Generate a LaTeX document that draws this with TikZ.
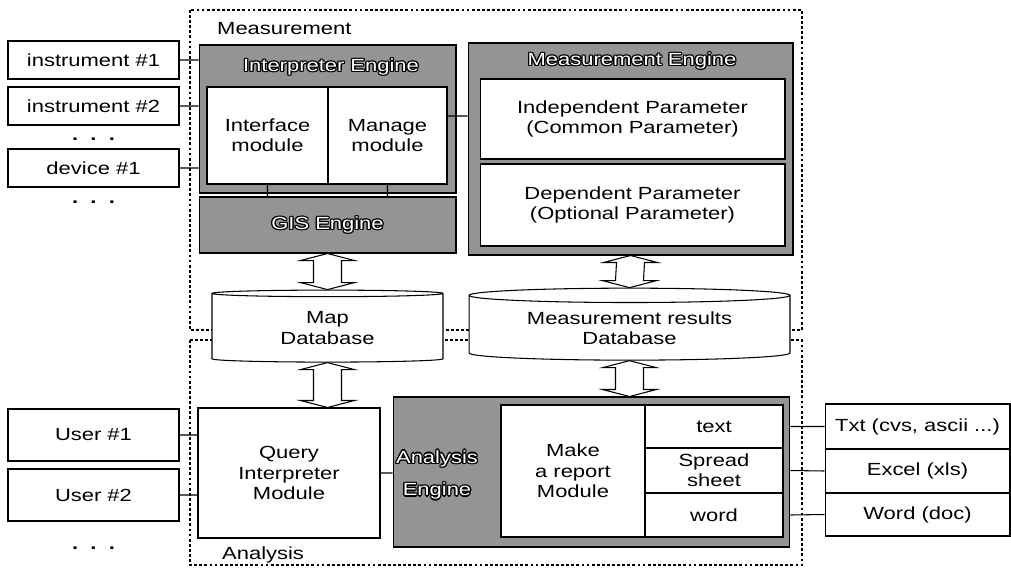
\documentclass[tikz,border=0pt]{standalone}
\usepackage{fontspec}
\setmainfont{Liberation Sans}[FakeStretch=1.25]
\usetikzlibrary{shapes.geometric,calc}

% white letters with a black rim
\newcommand\hollowtext[1]{\leavevmode\rlap{\color{black}%
  \rlap{\kern0.75pt\hbox{#1}}\rlap{\kern-0.75pt\hbox{#1}}%
  \rlap{\raise0.75pt\hbox{#1}}\rlap{\lower0.75pt\hbox{#1}}%
  \rlap{\kern0.55pt\raise0.55pt\hbox{#1}}\rlap{\kern-0.55pt\raise0.55pt\hbox{#1}}%
  \rlap{\kern0.55pt\lower0.55pt\hbox{#1}}\rlap{\kern-0.55pt\lower0.55pt\hbox{#1}}}%
  \textcolor{white}{#1}}

% hollow two-headed block arrow, #1 top tip, #2 bottom tip
\newcommand\fatarrow[2]{%
  \draw[link, fill=white] (#1) -- ($(#1)+(-27,7)$) -- ($(#1)+(-14,7)$)
    -- ($(#2)+(-14,-7)$) -- ($(#2)+(-27,-7)$) -- (#2)
    -- ($(#2)+(27,-7)$) -- ($(#2)+(14,-7)$)
    -- ($(#1)+(14,7)$) -- ($(#1)+(27,7)$) -- cycle;}

\tikzset{
  region/.style={line width=1.6pt, dash pattern=on 1.6pt off 1.3pt},
  link/.style={line width=0.6pt},
  srcbox/.style={draw, line width=0.6pt, minimum width=3.42cm, inner sep=0pt, align=center},
  outbox/.style={draw, line width=0.6pt, minimum width=3.7cm, inner sep=0pt, align=center},
  engine/.style={draw, line width=0.6pt, fill=black!42, inner sep=0pt},
  module/.style={draw, line width=0.6pt, fill=white, inner sep=0pt, align=center},
  dbase/.style={cylinder, shape border rotate=90, aspect=0.07, draw, line width=0.6pt,
    fill=white, align=center, inner sep=0pt},
}

\begin{document}
\begin{tikzpicture}[x=0.02cm, y=-0.02cm, font=\fontsize{10}{11.6}\selectfont]
	\useasboundingbox (0,0) rectangle (1011,569);

	% regions
	\draw[region] (190,10) rectangle (802,330);
	\draw[region] (190,340) rectangle (802,565);
	\node (lmeas) at (211,29) [anchor=west] {Measurement};
	\node (lana) at (216,555) [anchor=west] {Analysis};

	% sources
	\node (inst1) at (93.5,60) [srcbox, minimum height=0.76cm] {instrument \#1};
	\node (inst2) at (93.5,106) [srcbox, minimum height=0.76cm] {instrument \#2};
	\node (dots1) at (93.5,139) {\textbf{.\ \ .\ \ .}};
	\node (dev1) at (93.5,168) [srcbox, minimum height=0.76cm] {device \#1};
	\node (dots2) at (93.5,202) {\textbf{.\ \ .\ \ .}};
	\node (user1) at (93.5,435) [srcbox, minimum height=1.04cm] {User \#1};
	\node (user2) at (93.5,495) [srcbox, minimum height=1.04cm] {User \#2};
	\node (dots3) at (93.5,548) {\textbf{.\ \ .\ \ .}};

	% measurement part
	\node (ie) at (327.5,119) [engine, minimum width=5.14cm, minimum height=2.96cm] {};
	\node (iel) at (331,67) {\hollowtext{Interpreter Engine}};
	\node (ifm) at (267.5,135.5) [module, minimum width=2.42cm, minimum height=1.94cm] {Interface\\module};
	\node (mgm) at (387.5,135.5) [module, minimum width=2.38cm, minimum height=1.94cm] {Manage\\module};
	\node (gis) at (327.5,225) [engine, minimum width=5.14cm, minimum height=1.12cm] {\hollowtext{GIS Engine}};

	\node (me) at (630.5,149) [engine, minimum width=6.5cm, minimum height=4.24cm] {};
	\node (mel) at (632,61) {\hollowtext{Measurement Engine}};
	\node (indep) at (632.5,119) [module, minimum width=6.1cm, minimum height=1.6cm] {Independent Parameter\\(Common Parameter)};
	\node (dep) at (632.5,205) [module, minimum width=6.1cm, minimum height=1.64cm] {Dependent Parameter\\(Optional Parameter)};

	% databases
	\node (mapdb) at (327.5,328) [dbase, minimum width=4.62cm, minimum height=1.44cm] {Map\\Database};
	\node (mrdb) at (629.5,328) [dbase, minimum width=6.42cm, minimum height=1.44cm] {Measurement results\\Database};

	% analysis part
	\node (qim) at (289,473) [module, minimum width=3.64cm, minimum height=2.6cm] {Query\\Interpreter\\Module};
	\node (ae) at (591.5,472) [engine, minimum width=7.94cm, minimum height=3cm] {};
	\node (ael) at (437,475) [align=center] {\hollowtext{Analysis}\\[7pt]\hollowtext{Engine}};
	\node (mrm) at (573,471) [module, minimum width=2.88cm, minimum height=2.64cm] {Make\\a report\\Module};
	\node (txtc) at (714,426.5) [module, minimum width=2.76cm, minimum height=0.86cm] {text};
	\node (sprc) at (714,470.5) [module, minimum width=2.76cm, minimum height=0.9cm] {Spread\\sheet};
	\node (wrdc) at (714,515) [module, minimum width=2.76cm, minimum height=0.88cm] {word};

	\node (outtxt) at (917.5,426.5) [outbox, minimum height=0.9cm] {Txt (cvs, ascii ...)};
	\node (outxls) at (917.5,471) [outbox, minimum height=0.88cm] {Excel (xls)};
	\node (outdoc) at (917.5,514.5) [outbox, minimum height=0.86cm] {Word (doc)};

	% connectors
	\draw[link]
	(inst1.east) -- (ie.west |- inst1.east)
	(inst2.east) -- (ie.west |- inst2.east)
	(dev1.east) -- (ie.west |- dev1.east)
	(ifm.south) -- (ifm.south |- gis.north)
	(mgm.south) -- (mgm.south |- gis.north)
	(mgm.18) -- (me.west |- mgm.18)
	(user1.east) -- (qim.west |- user1.east)
	(user2.east) -- (qim.west |- user2.east)
	(qim.east) -- (ae.west |- qim.east)
	(ae.east |- txtc.east) -- (outtxt.west)
	(ae.east |- sprc.east) -- (outxls.west)
	(ae.east |- wrdc.east) -- (outdoc.west)
	;

	\fatarrow{gis.south}{mapdb.north}
	\fatarrow{me.south}{mrdb.north}
	\fatarrow{mapdb.south}{mapdb.south |- qim.north}
	\fatarrow{mrdb.south}{mrdb.south |- ae.north}
\end{tikzpicture}
\end{document}
